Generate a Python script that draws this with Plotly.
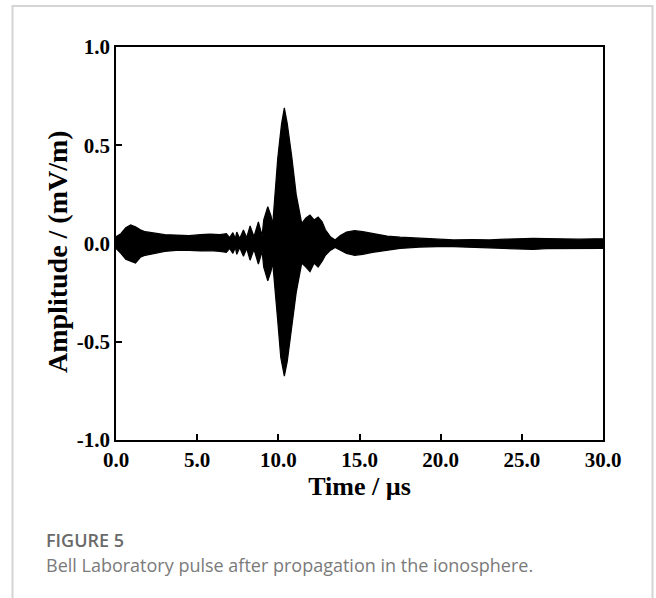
import plotly.graph_objects as go

# Envelope of the pulse (time in µs, amplitude in mV/m)
t_upper = [0.0, 0.3, 0.6, 0.9, 1.2, 1.5, 1.8, 2.3, 3.0, 3.7, 4.5, 5.2, 5.8, 6.4, 6.8,
           7.0, 7.2, 7.35, 7.44, 7.62, 7.85, 8.05, 8.26, 8.5, 8.77, 9.0, 9.1, 9.35,
           9.55, 9.65, 9.75, 9.96, 10.05, 10.2, 10.37, 10.55, 10.83, 11.1, 11.44,
           11.7, 11.95, 12.2, 12.45, 12.7, 12.9, 13.2, 13.5, 13.8, 14.2, 14.7, 15.2,
           15.8, 16.7, 17.5, 18.7, 19.8, 20.8, 22.0, 23.0, 24.0, 25.0, 25.7, 26.5,
           27.5, 28.5, 29.5, 30.0]
amp_upper = [0.035, 0.05, 0.08, 0.094, 0.085, 0.07, 0.06, 0.055, 0.045, 0.043, 0.04,
             0.045, 0.048, 0.045, 0.05, 0.03, 0.055, 0.025, 0.058, 0.025, 0.069, 0.03,
             0.089, 0.035, 0.11, 0.04, 0.12, 0.187, 0.14, 0.094, 0.22, 0.43, 0.5,
             0.61, 0.69, 0.61, 0.44, 0.25, 0.103, 0.13, 0.145, 0.12, 0.135, 0.11,
             0.07, 0.035, 0.018, 0.04, 0.058, 0.065, 0.06, 0.05, 0.038, 0.032, 0.026,
             0.02, 0.018, 0.02, 0.018, 0.022, 0.025, 0.026, 0.025, 0.022, 0.022,
             0.024, 0.024]

t_lower = [0.0, 0.3, 0.6, 0.9, 1.2, 1.5, 1.8, 2.3, 3.0, 3.7, 4.5, 5.2, 5.8, 6.4, 6.8,
           7.0, 7.2, 7.35, 7.44, 7.62, 7.85, 8.05, 8.26, 8.5, 8.77, 9.0, 9.1, 9.35,
           9.55, 9.65, 9.8, 9.96, 10.15, 10.37, 10.55, 10.8, 11.1, 11.44, 11.7,
           11.95, 12.2, 12.45, 12.7, 12.9, 13.2, 13.5, 13.8, 14.2, 14.7, 15.2, 15.8,
           16.7, 17.5, 18.7, 19.8, 20.8, 22.0, 23.0, 24.0, 25.0, 25.7, 26.5, 27.5,
           28.5, 29.5, 30.0]
amp_lower = [-0.025, -0.05, -0.08, -0.09, -0.10, -0.07, -0.06, -0.05, -0.04, -0.035,
             -0.035, -0.038, -0.037, -0.04, -0.045, -0.025, -0.05, -0.02, -0.055,
             -0.02, -0.065, -0.025, -0.085, -0.03, -0.105, -0.04, -0.12, -0.19,
             -0.14, -0.095, -0.24, -0.39, -0.58, -0.675, -0.6, -0.43, -0.25, -0.1,
             -0.12, -0.143, -0.1, -0.12, -0.09, -0.06, -0.035, -0.02, -0.035, -0.05,
             -0.06, -0.055, -0.045, -0.033, -0.025, -0.018, -0.016, -0.016, -0.02,
             -0.02, -0.025, -0.028, -0.03, -0.026, -0.024, -0.024, -0.025, -0.025]

x_ticks = [0, 5, 10, 15, 20, 25, 30]
x_ticklabels = ["0.0", "5.0", "10.0", "15.0", "20.0", "25.0", "30.0"]
y_ticks = [-1.0, -0.5, 0.0, 0.5, 1.0]
y_ticklabels = ["-1.0", "-0.5", "0.0", "0.5", "1.0"]

x_title = "Time / µs"
y_title = "Amplitude / (mV/m)"
fig_label = "FIGURE 5"
caption = "Bell Laboratory pulse after propagation in the ionosphere."

W, H = 656, 598
L, R, T, B = 116, 53, 47, 158
pw, ph = W - L - R, H - T - B


def px_x(p):
    return (p - L) / pw


def px_y(p):
    return (H - B - p) / ph


fig = go.Figure()
fig.add_trace(go.Scatter(
    x=t_upper + t_lower[::-1],
    y=amp_upper + amp_lower[::-1],
    mode="lines",
    fill="toself",
    fillcolor="black",
    line=dict(color="black", width=1.2),
    hoverinfo="skip",
    showlegend=False,
))

serif = "Liberation Serif, Times New Roman, serif"
axis_common = dict(
    showline=True, linecolor="black", linewidth=1.5, mirror=True,
    ticks="inside", ticklen=6, tickwidth=1.5, tickcolor="black",
    showgrid=False, zeroline=False,
    tickfont=dict(family=serif, size=21, color="black", weight="bold"),
)

fig.update_layout(
    width=W, height=H,
    margin=dict(l=L, r=R, t=T, b=B),
    paper_bgcolor="white", plot_bgcolor="white",
    showlegend=False,
    xaxis=dict(
        range=[0, 30], tickvals=x_ticks, ticktext=x_ticklabels,
        title=dict(text=x_title, font=dict(family=serif, size=26, color="black", weight="bold"),
                   standoff=5),
        **axis_common,
    ),
    yaxis=dict(
        range=[-1.0, 1.0], tickvals=y_ticks, ticktext=y_ticklabels,
        **axis_common,
    ),
    shapes=[dict(
        type="rect", xref="paper", yref="paper",
        x0=px_x(12.5), x1=px_x(652.5), y0=px_y(620), y1=px_y(6),
        line=dict(color="#d4d4d4", width=2), fillcolor="rgba(0,0,0,0)", layer="below",
    )],
    annotations=[
        dict(text=y_title, xref="paper", yref="paper", x=px_x(58), y=px_y(252),
             xanchor="center", yanchor="middle", textangle=-90, showarrow=False,
             font=dict(family=serif, size=28, color="black", weight="bold")),
        dict(text=fig_label, xref="paper", yref="paper", x=px_x(44), y=px_y(540),
             xanchor="left", yanchor="middle", showarrow=False,
             font=dict(family="Open Sans, sans-serif", size=18, color="#6a6a6a", weight=600)),
        dict(text=caption, xref="paper", yref="paper", x=px_x(44), y=px_y(565),
             xanchor="left", yanchor="middle", showarrow=False,
             font=dict(family="Open Sans, sans-serif", size=18, color="#7a7a7a")),
    ],
)

fig.write_html("out.html")
